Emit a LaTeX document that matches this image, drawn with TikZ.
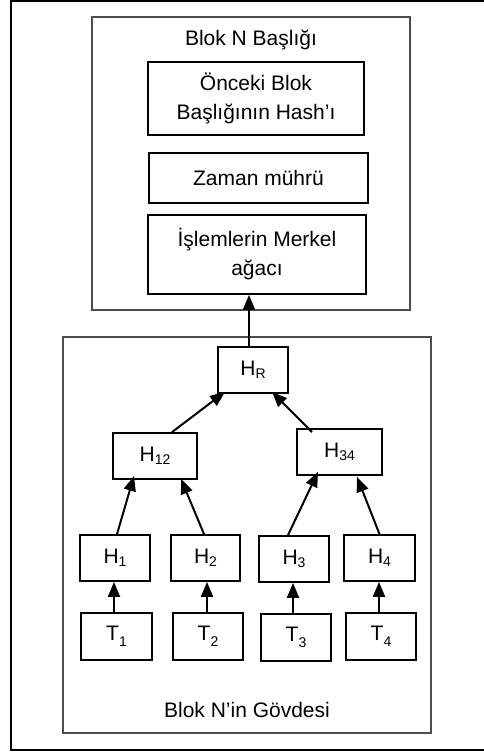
\documentclass[tikz,border=0pt]{standalone}
\usepackage{fontspec}
\setmainfont{Liberation Sans}
\usetikzlibrary{arrows.meta}
\newcommand\hsub[1]{\raisebox{-3pt}{\fontsize{14}{14}\selectfont #1}}
\newcommand\tsub[1]{\raisebox{-6pt}{\fontsize{14}{14}\selectfont #1}}
\begin{document}
\begin{tikzpicture}[x=1pt,y=-1pt,
  every node/.style={font=\fontsize{21}{29}\selectfont, inner sep=0pt, align=center},
  frame/.style={draw=black!70, line width=1.3pt, rectangle},
  sbox/.style={draw=black, line width=1.8pt, rectangle},
  arr/.style={line width=2pt, -{Triangle[length=15pt,width=12pt]}}]
\useasboundingbox (0,0) rectangle (483,753);
\draw[line width=2pt] (11,1) rectangle (520,750);
% header
\node[frame, minimum width=318pt, minimum height=293pt] (header) at (251,163.5) {};
\node (htitle) at (251,40) {Blok N Başlığı};
\node[sbox, minimum width=216pt, minimum height=73pt] (b1) at (256,98.5) {Önceki Blok\\Başlığının Hash’ı};
\node[sbox, minimum width=219pt, minimum height=50pt] (b2) at (258.5,178) {Zaman mührü};
\node[sbox, minimum width=218pt, minimum height=79pt] (b3) at (257,254.5) {İşlemlerin Merkel\\ağacı};
% body
\node[frame, minimum width=368pt, minimum height=396pt] (body) at (247,535) {};
\node (btitle) at (247,710) {Blok N’in Gövdesi};
\node[sbox, minimum width=70pt, minimum height=46pt] (HR) at (253,370) {H\hsub{R}};
\node[sbox, minimum width=84pt, minimum height=46pt] (H12) at (155,456) {H\hsub{12}};
\node[sbox, minimum width=85pt, minimum height=46pt] (H34) at (339.5,452) {H\hsub{34}};
\node[sbox, minimum width=70pt, minimum height=46pt] (H1) at (115,558) {H\hsub{1}};
\node[sbox, minimum width=69pt, minimum height=46pt] (H2) at (205.5,558) {H\hsub{2}};
\node[sbox, minimum width=70pt, minimum height=46pt] (H3) at (294,559) {H\hsub{3}};
\node[sbox, minimum width=71pt, minimum height=46pt] (H4) at (379.5,558) {H\hsub{4}};
\node[sbox, minimum width=71pt, minimum height=47pt] (T1) at (116.5,636.5) {T\tsub{1}};
\node[sbox, minimum width=70pt, minimum height=47pt] (T2) at (208,636.5) {T\tsub{2}};
\node[sbox, minimum width=70pt, minimum height=47pt] (T3) at (296,637.5) {T\tsub{3}};
\node[sbox, minimum width=70pt, minimum height=47pt] (T4) at (381,636.5) {T\tsub{4}};
% arrows
\draw[arr] ([xshift=-4pt]HR.north) -- ([xshift=-8pt]b3.south);
\draw[arr] ([xshift=17pt]H12.north) -- ([xshift=-28pt,yshift=2pt]HR.south);
\draw[arr] ([xshift=-27.5pt,yshift=-4pt]H34.north) -- ([xshift=19pt,yshift=2pt]HR.south);
\draw[arr] ([xshift=2pt]H1.north) -- ([xshift=-21pt,yshift=4pt]H12.south);
\draw[arr] ([xshift=-1.5pt]H2.north) -- ([xshift=26pt,yshift=1pt]H12.south);
\draw[arr] ([xshift=-6pt]H3.north) -- ([xshift=-21.5pt,yshift=4pt]H34.south);
\draw[arr] (H4.north) -- ([xshift=17.5pt,yshift=-1pt]H34.south);
\draw[arr] ([xshift=-2.5pt]T1.north) -- ([xshift=-2.5pt]T1.north |- H1.south);
\draw[arr] ([xshift=-1pt]T2.north) -- ([xshift=-1pt]T2.north |- H2.south);
\draw[arr] ([xshift=-3pt]T3.north) -- ([xshift=-3pt]T3.north |- H3.south);
\draw[arr] ([xshift=-2pt]T4.north) -- ([xshift=-2pt]T4.north |- H4.south);
\end{tikzpicture}
\end{document}
